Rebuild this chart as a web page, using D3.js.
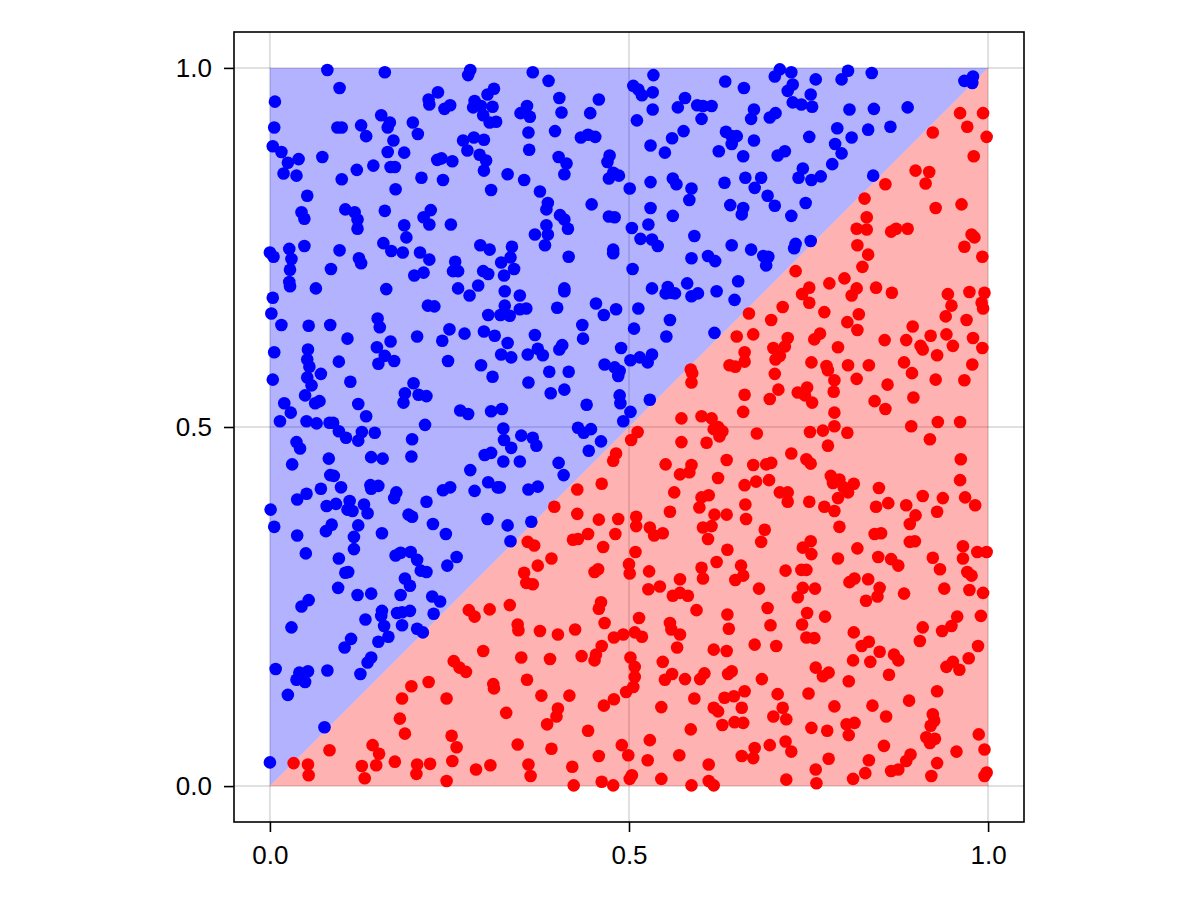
<!DOCTYPE html>
<html><head><meta charset="utf-8">
<script src="https://cdn.jsdelivr.net/npm/d3@7"></script>
<style>body{margin:0;background:#fff}</style>
</head><body><svg id="c" width="1200" height="900"></svg>
<script>
const tickValues = [0, 0.5, 1];
const tickLabels = ["0.0", "0.5", "1.0"];
const blueRegion = [[0,0],[0,1],[1,1]];
const redRegion = [[0,0],[1,0],[1,1]];

const bluePoints = [
[0.080,0.997],[0.160,0.994],[0.097,0.972],[0.007,0.953],[0.279,0.997],[0.276,0.990],[0.234,0.966],[0.221,0.956],[0.222,0.949],[0.243,0.943],[0.251,0.948],[0.312,0.971],[0.303,0.963],[0.285,0.954],[0.283,0.945],[0.294,0.947],[0.310,0.946],[0.297,0.934],[0.306,0.924],[0.315,0.925],[0.155,0.934],[0.167,0.924],[0.164,0.917],[0.127,0.920],[0.134,0.905],[0.094,0.917],[0.100,0.917],[0.199,0.924],[0.206,0.908],[0.006,0.917],[0.172,0.899],[0.004,0.891],[0.016,0.883],[0.025,0.868],[0.040,0.873],[0.019,0.853],[0.037,0.850],[0.073,0.876],[0.164,0.883],[0.187,0.882],[0.269,0.899],[0.284,0.903],[0.298,0.900],[0.275,0.885],[0.292,0.879],[0.301,0.871],[0.298,0.857],[0.144,0.864],[0.168,0.862],[0.174,0.862],[0.121,0.858],[0.233,0.872],[0.239,0.874],[0.254,0.870],[0.100,0.845],[0.211,0.847],[0.241,0.844],[0.175,0.831],[0.308,0.830],[0.052,0.822],[0.044,0.799],[0.048,0.790],[0.105,0.803],[0.118,0.799],[0.122,0.789],[0.122,0.776],[0.160,0.801],[0.224,0.802],[0.214,0.792],[0.222,0.782],[0.187,0.781],[0.190,0.764],[0.252,0.782],[0.048,0.752],[0.027,0.748],[0.030,0.734],[0.028,0.719],[0.027,0.702],[0.028,0.696],[0.000,0.743],[0.005,0.737],[0.097,0.746],[0.124,0.735],[0.127,0.728],[0.158,0.756],[0.169,0.745],[0.185,0.743],[0.209,0.743],[0.222,0.733],[0.214,0.715],[0.201,0.711],[0.293,0.753],[0.306,0.747],[0.258,0.730],[0.262,0.717],[0.255,0.717],[0.297,0.717],[0.304,0.713],[0.085,0.720],[0.064,0.693],[0.162,0.692],[0.262,0.693],[0.278,0.683],[0.290,0.697],
[0.366,0.994],[0.388,0.982],[0.403,0.958],[0.358,0.947],[0.349,0.937],[0.362,0.932],[0.406,0.938],[0.458,0.956],[0.446,0.937],[0.360,0.910],[0.397,0.912],[0.433,0.903],[0.443,0.907],[0.453,0.904],[0.361,0.886],[0.402,0.876],[0.413,0.867],[0.410,0.852],[0.473,0.878],[0.470,0.869],[0.478,0.854],[0.472,0.846],[0.486,0.850],[0.331,0.852],[0.354,0.844],[0.376,0.828],[0.387,0.812],[0.385,0.803],[0.448,0.810],[0.404,0.795],[0.410,0.789],[0.415,0.776],[0.369,0.768],[0.385,0.781],[0.387,0.768],[0.383,0.753],[0.472,0.793],[0.480,0.792],[0.501,0.832],[0.504,0.777],[0.478,0.747],[0.478,0.742],[0.416,0.737],[0.337,0.751],[0.335,0.736],[0.322,0.729],[0.340,0.720],[0.326,0.711],[0.327,0.689],[0.348,0.683],[0.410,0.693],[0.410,0.689],[0.505,0.720],[0.534,0.990],[0.506,0.975],[0.513,0.970],[0.518,0.962],[0.533,0.966],[0.533,0.942],[0.511,0.927],[0.578,0.958],[0.568,0.945],[0.595,0.948],[0.603,0.947],[0.615,0.947],[0.601,0.929],[0.576,0.912],[0.560,0.902],[0.550,0.882],[0.530,0.892],[0.634,0.981],[0.635,0.911],[0.643,0.905],[0.650,0.905],[0.643,0.894],[0.625,0.884],[0.530,0.841],[0.561,0.846],[0.566,0.838],[0.587,0.832],[0.584,0.816],[0.633,0.840],[0.530,0.805],[0.561,0.794],[0.527,0.782],[0.516,0.762],[0.532,0.761],[0.540,0.752],[0.641,0.809],[0.591,0.766],[0.643,0.753],[0.587,0.735],[0.610,0.738],[0.620,0.731],[0.532,0.693],[0.554,0.695],[0.559,0.687],[0.564,0.686],[0.551,0.686],[0.581,0.700],[0.587,0.682],[0.596,0.686],[0.622,0.689],[0.652,0.703],
[0.710,0.998],[0.703,0.988],[0.726,0.994],[0.728,0.977],[0.721,0.968],[0.760,0.984],[0.753,0.963],[0.755,0.946],[0.805,0.996],[0.796,0.984],[0.838,0.993],[0.660,0.972],[0.728,0.952],[0.740,0.949],[0.674,0.942],[0.670,0.929],[0.696,0.931],[0.704,0.937],[0.807,0.942],[0.841,0.943],[0.888,0.945],[0.967,0.982],[0.979,0.988],[0.978,0.979],[0.790,0.916],[0.833,0.914],[0.864,0.918],[0.810,0.903],[0.751,0.904],[0.674,0.899],[0.787,0.894],[0.796,0.881],[0.783,0.866],[0.707,0.878],[0.717,0.884],[0.659,0.877],[0.742,0.860],[0.736,0.847],[0.754,0.844],[0.767,0.849],[0.662,0.847],[0.684,0.847],[0.675,0.833],[0.693,0.822],[0.703,0.808],[0.840,0.850],[0.746,0.812],[0.659,0.805],[0.657,0.796],[0.726,0.794],[0.670,0.747],[0.687,0.738],[0.694,0.737],[0.691,0.725],[0.732,0.755],[0.730,0.749],[0.753,0.759],
[0.004,0.680],[0.220,0.669],[0.229,0.668],[0.304,0.656],[0.002,0.658],[0.016,0.642],[0.054,0.641],[0.084,0.642],[0.150,0.651],[0.153,0.639],[0.108,0.623],[0.205,0.626],[0.250,0.636],[0.240,0.620],[0.271,0.630],[0.298,0.633],[0.313,0.627],[0.006,0.604],[0.053,0.608],[0.052,0.594],[0.055,0.584],[0.052,0.569],[0.058,0.558],[0.071,0.574],[0.096,0.591],[0.149,0.611],[0.168,0.619],[0.160,0.599],[0.151,0.588],[0.173,0.592],[0.248,0.592],[0.294,0.586],[0.310,0.570],[0.004,0.566],[0.112,0.563],[0.200,0.561],[0.188,0.547],[0.186,0.534],[0.207,0.545],[0.218,0.543],[0.049,0.544],[0.063,0.533],[0.069,0.536],[0.020,0.533],[0.029,0.520],[0.014,0.508],[0.123,0.532],[0.134,0.515],[0.265,0.523],[0.276,0.518],[0.308,0.522],[0.051,0.508],[0.065,0.505],[0.083,0.506],[0.088,0.506],[0.096,0.494],[0.106,0.485],[0.128,0.493],[0.123,0.481],[0.146,0.492],[0.216,0.503],[0.037,0.479],[0.042,0.470],[0.198,0.483],[0.082,0.456],[0.141,0.458],[0.157,0.456],[0.197,0.459],[0.031,0.448],[0.299,0.461],[0.308,0.464],[0.279,0.440],[0.084,0.433],[0.089,0.432],[0.099,0.416],[0.071,0.414],[0.140,0.419],[0.151,0.418],[0.141,0.414],[0.176,0.409],[0.173,0.401],[0.241,0.412],[0.251,0.416],[0.285,0.411],[0.304,0.423],[0.317,0.416],[0.051,0.407],[0.038,0.399],[0.079,0.390],[0.092,0.393],[0.111,0.397],[0.115,0.383],[0.108,0.385],[0.131,0.392],[0.136,0.380],[0.001,0.385],[0.218,0.396],[0.193,0.378],[0.198,0.375],[0.006,0.361],[0.086,0.364],[0.078,0.355],[0.123,0.363],[0.227,0.365],[0.303,0.372],[0.038,0.349],[0.117,0.347],[0.156,0.352],[0.245,0.351],
[0.327,0.669],[0.321,0.656],[0.334,0.655],[0.348,0.664],[0.357,0.665],[0.400,0.666],[0.454,0.672],[0.465,0.656],[0.482,0.664],[0.513,0.665],[0.557,0.649],[0.552,0.626],[0.507,0.637],[0.435,0.642],[0.436,0.623],[0.369,0.628],[0.331,0.617],[0.322,0.601],[0.336,0.597],[0.359,0.601],[0.373,0.609],[0.380,0.600],[0.403,0.608],[0.407,0.614],[0.489,0.610],[0.466,0.587],[0.480,0.583],[0.487,0.578],[0.485,0.571],[0.502,0.593],[0.515,0.597],[0.526,0.590],[0.532,0.601],[0.389,0.577],[0.416,0.577],[0.360,0.562],[0.391,0.547],[0.410,0.552],[0.441,0.531],[0.487,0.544],[0.488,0.533],[0.529,0.538],[0.502,0.521],[0.492,0.508],[0.323,0.525],[0.325,0.498],[0.326,0.482],[0.336,0.471],[0.350,0.488],[0.366,0.485],[0.371,0.474],[0.429,0.499],[0.437,0.492],[0.447,0.497],[0.461,0.480],[0.444,0.467],[0.325,0.452],[0.348,0.452],[0.402,0.450],[0.409,0.433],[0.320,0.416],[0.360,0.413],[0.373,0.417],[0.364,0.368],[0.331,0.363],[0.619,0.631],[0.647,0.677],
[0.050,0.324],[0.096,0.317],[0.117,0.330],[0.105,0.297],[0.109,0.298],[0.095,0.276],[0.122,0.266],[0.141,0.268],[0.175,0.321],[0.182,0.325],[0.196,0.326],[0.205,0.315],[0.210,0.300],[0.218,0.298],[0.188,0.289],[0.195,0.279],[0.182,0.266],[0.247,0.307],[0.260,0.319],[0.226,0.264],[0.237,0.257],[0.228,0.240],[0.054,0.259],[0.044,0.250],[0.030,0.221],[0.133,0.232],[0.156,0.244],[0.155,0.237],[0.159,0.223],[0.177,0.241],[0.184,0.242],[0.195,0.244],[0.184,0.224],[0.205,0.219],[0.213,0.214],[0.113,0.205],[0.104,0.193],[0.165,0.208],[0.151,0.201],[0.141,0.179],[0.136,0.172],[0.126,0.156],[0.008,0.163],[0.041,0.158],[0.053,0.160],[0.037,0.148],[0.049,0.145],[0.080,0.161],[0.025,0.127],[0.076,0.082],[0.000,0.033],
[0.335,0.341]
];

const redPoints = [
[0.961,0.937],[0.993,0.937],[0.971,0.918],[0.998,0.904],[0.923,0.910],[0.980,0.877],[0.899,0.857],[0.918,0.855],[0.913,0.839],[0.857,0.838],[0.828,0.818],[0.927,0.805],[0.963,0.810],[0.831,0.792],[0.817,0.776],[0.831,0.775],[0.865,0.772],[0.872,0.776],[0.888,0.776],[0.818,0.753],[0.833,0.740],[0.825,0.723],[0.977,0.768],[0.981,0.764],[0.967,0.751],[0.992,0.737],[0.732,0.717],[0.800,0.707],[0.779,0.700],[0.751,0.694],[0.741,0.685],[0.817,0.693],[0.810,0.683],[0.844,0.694],[0.866,0.687],[0.944,0.685],[0.974,0.688],[0.995,0.687],
[0.650,0.626],[0.640,0.586],[0.648,0.584],[0.586,0.580],[0.588,0.575],[0.587,0.562],[0.573,0.512],[0.601,0.515],[0.615,0.512],[0.624,0.500],[0.630,0.494],[0.626,0.487],[0.618,0.497],[0.512,0.493],[0.503,0.482],[0.573,0.479],[0.608,0.478],[0.482,0.463],[0.478,0.453],[0.551,0.448],[0.587,0.447],[0.584,0.437],[0.571,0.434],[0.636,0.454],[0.624,0.429],[0.462,0.421],[0.428,0.413],[0.563,0.409],[0.601,0.402],[0.611,0.405],[0.598,0.388],[0.396,0.389],[0.428,0.379],[0.557,0.382],[0.619,0.378],[0.636,0.378],[0.458,0.371],[0.485,0.372],[0.510,0.375],[0.510,0.362],[0.529,0.360],[0.535,0.349],[0.547,0.352],[0.481,0.351],[0.443,0.351],[0.603,0.360],[0.615,0.362],
[0.667,0.658],[0.698,0.649],[0.714,0.667],[0.751,0.673],[0.772,0.660],[0.949,0.669],[0.941,0.654],[0.991,0.673],[0.993,0.665],[0.804,0.646],[0.820,0.657],[0.818,0.635],[0.856,0.621],[0.886,0.621],[0.895,0.640],[0.920,0.627],[0.942,0.629],[0.951,0.613],[0.906,0.613],[0.909,0.608],[0.929,0.600],[0.970,0.649],[0.979,0.624],[0.992,0.610],[0.673,0.629],[0.721,0.624],[0.701,0.610],[0.717,0.612],[0.704,0.594],[0.710,0.599],[0.758,0.622],[0.766,0.630],[0.661,0.604],[0.661,0.591],[0.791,0.611],[0.754,0.590],[0.775,0.585],[0.777,0.579],[0.786,0.565],[0.785,0.549],[0.805,0.586],[0.834,0.586],[0.817,0.567],[0.883,0.590],[0.894,0.575],[0.927,0.566],[0.967,0.565],[0.978,0.587],[0.703,0.574],[0.860,0.559],[0.708,0.552],[0.735,0.548],[0.748,0.555],[0.745,0.544],[0.755,0.534],[0.696,0.539],[0.661,0.545],[0.842,0.536],[0.857,0.525],[0.896,0.541],[0.786,0.520],[0.659,0.521],[0.786,0.501],[0.770,0.495],[0.752,0.493],[0.804,0.492],[0.893,0.501],[0.930,0.507],[0.961,0.507],[0.678,0.491],[0.919,0.483],[0.777,0.474],[0.726,0.463],[0.747,0.455],[0.753,0.449],[0.962,0.455],[0.673,0.447],[0.691,0.448],[0.698,0.450],[0.661,0.419],[0.677,0.424],[0.695,0.426],[0.781,0.432],[0.793,0.427],[0.784,0.422],[0.799,0.416],[0.813,0.421],[0.805,0.409],[0.710,0.409],[0.721,0.409],[0.721,0.396],[0.751,0.396],[0.791,0.401],[0.848,0.415],[0.961,0.426],[0.662,0.392],[0.772,0.389],[0.786,0.383],[0.844,0.389],[0.861,0.394],[0.886,0.391],[0.909,0.404],[0.937,0.401],[0.968,0.402],[0.982,0.391],[0.929,0.382],[0.899,0.377],[0.891,0.365],[0.663,0.372],[0.793,0.361],[0.689,0.357],[0.842,0.351],[0.851,0.352],
[0.277,0.245],[0.285,0.236],[0.306,0.246],[0.297,0.188],[0.256,0.174],[0.264,0.165],[0.273,0.159],[0.221,0.145],[0.197,0.139],[0.184,0.122],[0.246,0.122],[0.311,0.142],[0.312,0.136],[0.181,0.094],[0.188,0.073],[0.253,0.070],[0.260,0.054],[0.083,0.050],[0.143,0.057],[0.152,0.045],[0.174,0.034],[0.033,0.032],[0.053,0.030],[0.054,0.015],[0.128,0.028],[0.132,0.011],[0.148,0.029],[0.205,0.030],[0.204,0.017],[0.223,0.031],[0.254,0.035],[0.246,0.007],[0.287,0.023],[0.307,0.029],
[0.359,0.340],[0.368,0.335],[0.422,0.343],[0.429,0.344],[0.464,0.333],[0.610,0.344],[0.392,0.317],[0.373,0.307],[0.354,0.297],[0.357,0.283],[0.366,0.281],[0.509,0.326],[0.500,0.309],[0.501,0.296],[0.452,0.298],[0.457,0.302],[0.528,0.299],[0.637,0.329],[0.622,0.312],[0.601,0.304],[0.603,0.289],[0.648,0.287],[0.571,0.288],[0.527,0.274],[0.543,0.278],[0.561,0.265],[0.571,0.269],[0.582,0.265],[0.594,0.245],[0.334,0.252],[0.461,0.256],[0.458,0.247],[0.637,0.239],[0.639,0.219],[0.514,0.234],[0.466,0.227],[0.345,0.225],[0.346,0.217],[0.376,0.216],[0.401,0.211],[0.425,0.218],[0.557,0.227],[0.559,0.218],[0.571,0.211],[0.492,0.211],[0.479,0.207],[0.508,0.214],[0.518,0.208],[0.462,0.195],[0.454,0.183],[0.452,0.175],[0.567,0.193],[0.618,0.190],[0.636,0.188],[0.350,0.179],[0.390,0.177],[0.434,0.181],[0.502,0.179],[0.508,0.166],[0.508,0.152],[0.506,0.138],[0.496,0.131],[0.547,0.173],[0.358,0.148],[0.560,0.156],[0.550,0.148],[0.578,0.149],[0.605,0.157],[0.599,0.149],[0.643,0.160],[0.638,0.156],[0.378,0.126],[0.417,0.126],[0.479,0.121],[0.465,0.112],[0.591,0.122],[0.633,0.123],[0.646,0.125],[0.618,0.109],[0.624,0.104],[0.545,0.110],[0.329,0.102],[0.401,0.108],[0.399,0.097],[0.386,0.086],[0.443,0.077],[0.630,0.085],[0.647,0.089],[0.586,0.079],[0.345,0.058],[0.392,0.052],[0.490,0.057],[0.499,0.043],[0.529,0.064],[0.458,0.042],[0.526,0.036],[0.570,0.043],[0.611,0.030],[0.360,0.030],[0.363,0.014],[0.421,0.027],[0.423,0.001],[0.462,0.006],[0.478,0.001],[0.501,0.010],[0.504,0.015],[0.545,0.010],[0.587,0.001],[0.611,0.007],[0.618,0.001],
[0.684,0.340],[0.742,0.332],[0.753,0.341],[0.754,0.323],[0.791,0.317],[0.818,0.331],[0.891,0.340],[0.898,0.341],[0.847,0.319],[0.865,0.316],[0.875,0.307],[0.923,0.318],[0.933,0.302],[0.965,0.334],[0.965,0.317],[0.985,0.326],[0.998,0.326],[0.656,0.307],[0.659,0.293],[0.718,0.300],[0.740,0.301],[0.747,0.301],[0.807,0.284],[0.814,0.289],[0.833,0.288],[0.849,0.276],[0.846,0.264],[0.830,0.258],[0.681,0.275],[0.742,0.276],[0.759,0.275],[0.735,0.263],[0.883,0.268],[0.939,0.275],[0.974,0.273],[0.993,0.269],[0.971,0.298],[0.977,0.293],[0.693,0.248],[0.697,0.224],[0.748,0.241],[0.773,0.236],[0.741,0.225],[0.747,0.207],[0.758,0.206],[0.675,0.197],[0.705,0.195],[0.813,0.214],[0.824,0.195],[0.834,0.201],[0.849,0.187],[0.812,0.175],[0.836,0.173],[0.869,0.183],[0.875,0.175],[0.862,0.155],[0.909,0.221],[0.936,0.216],[0.949,0.223],[0.957,0.236],[0.905,0.202],[0.990,0.237],[0.986,0.195],[0.973,0.178],[0.942,0.166],[0.951,0.173],[0.960,0.162],[0.760,0.165],[0.770,0.153],[0.778,0.158],[0.806,0.146],[0.685,0.149],[0.661,0.132],[0.707,0.128],[0.750,0.129],[0.657,0.109],[0.714,0.109],[0.719,0.093],[0.701,0.097],[0.786,0.111],[0.839,0.112],[0.858,0.097],[0.890,0.119],[0.929,0.132],[0.923,0.100],[0.925,0.091],[0.920,0.084],[0.659,0.088],[0.754,0.081],[0.776,0.077],[0.803,0.086],[0.814,0.088],[0.806,0.071],[0.987,0.072],[0.914,0.068],[0.926,0.066],[0.919,0.060],[0.675,0.053],[0.673,0.039],[0.657,0.042],[0.696,0.057],[0.718,0.062],[0.726,0.048],[0.778,0.038],[0.855,0.056],[0.956,0.048],[0.995,0.051],[0.834,0.036],[0.829,0.018],[0.892,0.044],[0.886,0.035],[0.875,0.023],[0.865,0.021],[0.929,0.032],[0.760,0.023],[0.761,0.004],[0.719,0.009],[0.812,0.010],[0.921,0.014],[0.998,0.019],[0.995,0.014]
];

const svg = d3.select("#c");
const L = 234, R = 1024, T = 32, B = 822;
const x = d3.scaleLinear().domain([-0.05, 1.05]).range([L, R]);
const y = d3.scaleLinear().domain([-0.05, 1.05]).range([B, T]);

svg.append("rect").attr("width", 1200).attr("height", 900).attr("fill", "#fff");

const grid = svg.append("g");
grid.selectAll(".gx").data(tickValues).join("line").attr("class","gx")
  .attr("x1", d => x(d)).attr("x2", d => x(d)).attr("y1", T).attr("y2", B)
  .attr("stroke", "rgba(0,0,0,0.12)").attr("stroke-width", 2);
grid.selectAll(".gy").data(tickValues).join("line").attr("class","gy")
  .attr("y1", d => y(d)).attr("y2", d => y(d)).attr("x1", L).attr("x2", R)
  .attr("stroke", "rgba(0,0,0,0.12)").attr("stroke-width", 2);

const area = d3.line().x(d => x(d[0])).y(d => y(d[1]));
svg.append("path").attr("d", area(blueRegion) + "Z").attr("fill", "rgba(0,0,255,0.3)");
svg.append("path").attr("d", area(redRegion) + "Z").attr("fill", "rgba(255,0,0,0.3)");

svg.append("g").selectAll("circle").data(bluePoints).join("circle")
  .attr("cx", d => x(d[0])).attr("cy", d => y(d[1])).attr("r", 6.3).attr("fill", "#0000ff");
svg.append("g").selectAll("circle").data(redPoints).join("circle")
  .attr("cx", d => x(d[0])).attr("cy", d => y(d[1])).attr("r", 6.3).attr("fill", "#ff0000");

svg.append("rect").attr("x", L).attr("y", T).attr("width", R - L).attr("height", B - T)
  .attr("fill", "none").attr("stroke", "#000").attr("stroke-width", 1.6);

function styleAxis(g) {
  g.select(".domain").remove();
  g.attr("font-family", "'Liberation Sans', Arial, sans-serif").attr("font-size", 26);
  g.selectAll(".tick line").attr("stroke", "#000").attr("stroke-width", 1.6);
  g.selectAll(".tick text").attr("fill", "#000");
}
const fmt = (d, i) => tickLabels[i];
svg.append("g").attr("transform", `translate(0,${B})`)
  .call(d3.axisBottom(x).tickValues(tickValues).tickFormat(fmt).tickSize(10).tickPadding(14))
  .call(styleAxis);
svg.append("g").attr("transform", `translate(${L},0)`)
  .call(d3.axisLeft(y).tickValues(tickValues).tickFormat(fmt).tickSize(10).tickPadding(12))
  .call(styleAxis);
</script></body></html>
